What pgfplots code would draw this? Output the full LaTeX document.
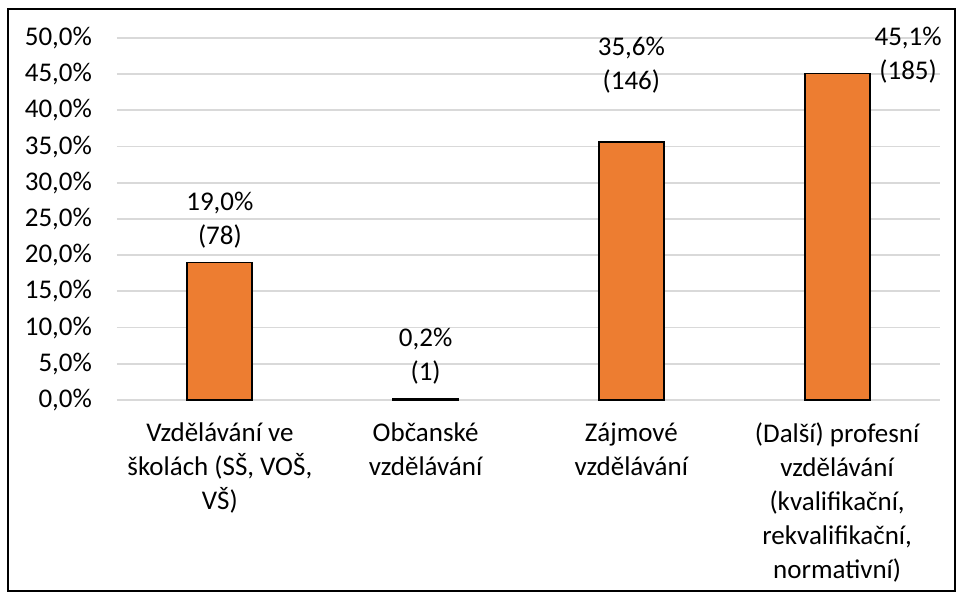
\documentclass[border=0pt]{standalone}
\usepackage{pgfplots}
\pgfplotsset{compat=1.18}
\usepackage{fontspec}
\setmainfont{Carlito}
\definecolor{barorange}{HTML}{ED7D31}
\definecolor{gridgray}{HTML}{D9D9D9}

% x = category index, y = share in %, n = count, dx/dy = label offsets (pt)
\pgfplotstableread{
x y n dx dy
0 19.0 78 0 0
1 0.2 1 0 0
2 35.6 146 0 17.5
3 45.1 185 35.5 -12
}\bardata

\begin{document}
\begin{tikzpicture}[font=\fontsize{13.5}{17}\selectfont]
\begin{axis}[
    name=ax,
    scale only axis,
    width=411.5pt, height=181pt,
    ybar,
    xmin=-0.5, xmax=3.5,
    ymin=0, ymax=50,
    ytick={0,5,...,50},
    xtick={0,1,2,3},
    xticklabels={{Vzdělávání ve\\školách (SŠ, VOŠ,\\VŠ)},
                 {Občanské\\vzdělávání},
                 {Zájmové\\vzdělávání},
                 {(Další) profesní\\vzdělávání\\(kvalifikační,\\rekvalifikační,\\normativní)}},
    /pgf/number format/assume math mode=true,
    yticklabel={\pgfmathprintnumber[fixed,fixed zerofill,precision=1,use comma]{\tick}\%},
    every tick label/.append style={font=\fontsize{13.5}{17}\selectfont},
    xticklabel style={align=center, yshift=-8pt},
    yticklabel style={anchor=east, xshift=-9pt},
    axis line style={draw=none},
    major tick length=0pt,
    ymajorgrids,
    major grid style={gridgray, line width=0.9pt},
    clip=false,
]
\addplot[
    bar width=32.5pt, fill=barorange, draw=black, line width=0.9pt,
    point meta=y,
    visualization depends on={\thisrow{n} \as \cnt},
    visualization depends on={\thisrow{dx} \as \dx},
    visualization depends on={\thisrow{dy} \as \dy},
    nodes near coords={\pgfmathprintnumber[fixed,fixed zerofill,precision=1,use comma]{\pgfplotspointmeta}\%\\(\pgfmathprintnumber[fixed,precision=0]{\cnt})},
    every node near coord/.append style={anchor=center, align=center,
        xshift=\dx pt, yshift=21pt+\dy pt, text=black,
        font=\fontsize{13.5}{17}\selectfont},
] table[x=x, y=y] {\bardata};
\end{axis}
\begin{scope}[shift={(ax.south west)}]
\draw[line width=1.2pt] (-54.5pt,-95.5pt) rectangle (419pt,195.5pt);
\useasboundingbox (-58.5pt,-96pt) rectangle (420pt,200pt);
\end{scope}
\end{tikzpicture}
\end{document}
